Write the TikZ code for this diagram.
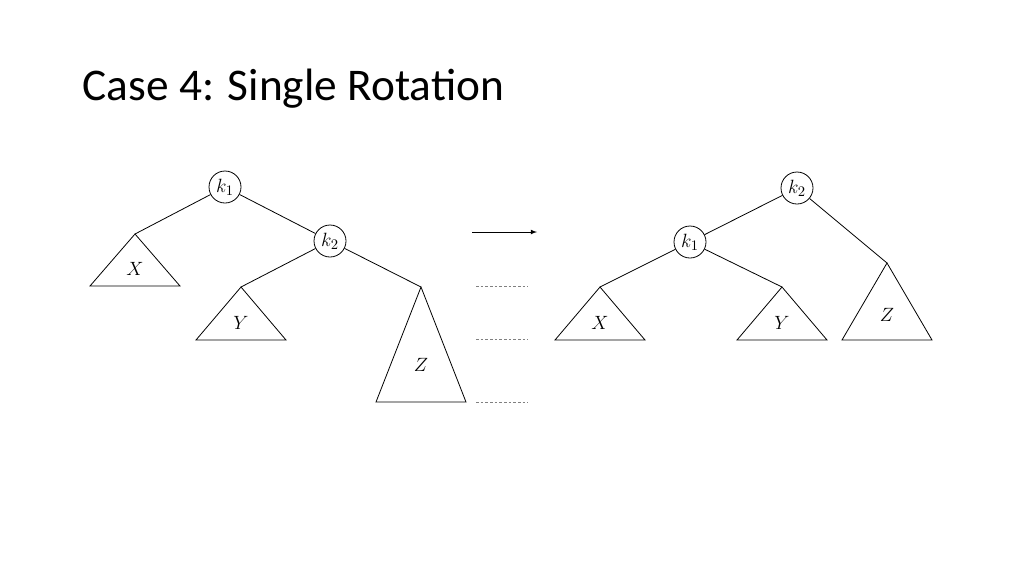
\documentclass[tikz,border=0pt]{standalone}
\usepackage{fontspec}
\setsansfont{Carlito}
\usepackage{tikz}
\usetikzlibrary{calc}
\tikzset{
  key/.style={draw, circle, line width=0.6pt, inner sep=1pt, minimum size=24pt, font=\fontsize{15}{18}\selectfont},
  edge/.style={draw, line width=0.6pt},
  subtree/.style={draw, line width=0.6pt},
  tname/.style={font=\fontsize{15}{18}\selectfont},
  gap/.style={draw, gray, line width=0.6pt, dash pattern=on 2pt off 1.5pt}
}
% triangle: apex name, apex, half width, height, label
\newcommand{\subtri}[5]{%
  \coordinate (#1) at #2;
  \draw[subtree] (#1) -- ++(-#3,#4) -- ++(2*#3,0) -- cycle;
  \node[tname] at ($(#1)+(0,0.68*#4)$) {$#5$};
}

\begin{document}
\begin{tikzpicture}[x=0.75pt, y=-0.75pt]
  \useasboundingbox (0,0) rectangle (1024,576);
  \node[font=\sffamily\fontsize{34}{40}\selectfont, anchor=base west] (title) at (78,100) {Case 4: Single Rotation};
  % Before rotation
  \node[key] (lk1) at (225,187) {$k_1$};
  \node[key] (lk2) at (330,241) {$k_2$};
  \subtri{lx}{(135,234)}{45}{52}{X}
  \subtri{ly}{(241,287)}{45}{53}{Y}
  \subtri{lz}{(421,287)}{45}{115}{Z}
  \draw[edge] (lk1) -- (lx);
  \draw[edge] (lk1) -- (lk2);
  \draw[edge] (lk2) -- (ly);
  \draw[edge] (lk2) -- (lz);
  % Arrow and level guides
  \coordinate (a0) at (472,232);
  \coordinate (a1) at (537,232);
  \draw[edge, -latex] (a0) -- (a1);
  \foreach \yy in {286,339,402}{
    \coordinate (g0) at (476,\yy);
    \coordinate (g1) at (528,\yy);
    \draw[gap] (g0) -- (g1);
  }
  % After rotation
  \node[key] (rk2) at (797,188) {$k_2$};
  \node[key] (rk1) at (690,242) {$k_1$};
  \subtri{rx}{(600,287)}{45}{53}{X}
  \subtri{ry}{(782,287)}{45}{53}{Y}
  \subtri{rz}{(887,263)}{45}{77}{Z}
  \draw[edge] (rk2) -- (rk1);
  \draw[edge] (rk2) -- (rz);
  \draw[edge] (rk1) -- (rx);
  \draw[edge] (rk1) -- (ry);
\end{tikzpicture}
\end{document}
